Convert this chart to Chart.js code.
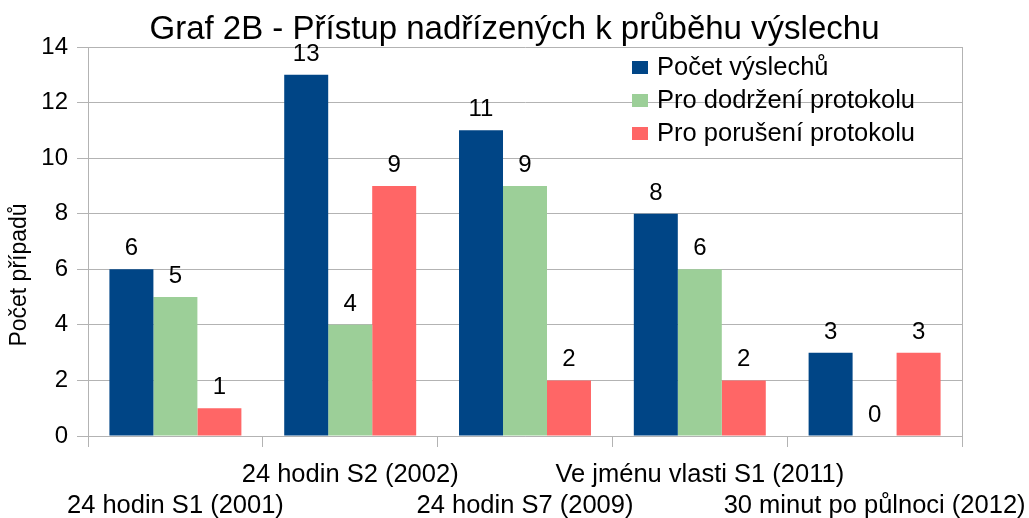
<!DOCTYPE html>
<html>
<head>
<meta charset="utf-8">
<script src="https://cdn.jsdelivr.net/npm/chart.js@4/dist/chart.umd.min.js"></script>
<style>
   html, body { margin: 0; padding: 0; background: #fff; }
   #wrap { width: 1029px; height: 518px; }
</style>
</head>
<body>
<div id="wrap"><canvas id="chart"></canvas></div>
<script>
// chart data
const categories = [
   "24 hodin S1 (2001)",
   "24 hodin S2 (2002)",
   "24 hodin S7 (2009)",
   "Ve jménu vlasti S1 (2011)",
   "30 minut po půlnoci (2012)",
];
const seriesNames = ["Počet výslechů", "Pro dodržení protokolu", "Pro porušení protokolu"];
const pocetVyslechu = [6, 13, 11, 8, 3];
const proDodrzeni = [5, 4, 9, 6, 0];
const proPoruseni = [1, 9, 2, 2, 3];
const yMin = 0;
const yMax = 14;
const yStep = 2;

const titleText = "Graf 2B - Přístup nadřízených k průběhu výslechu";
const yTitleText = "Počet případů";
const colors = ["#004586", "#9ccf98", "#ff6666"];
const gridColor = "#b3b3b3";
const fontFamily = "'Liberation Sans', Arial, sans-serif";

// title, value labels above the bars, legend, y title and right border
const extras = {
   id: "extras",
   afterDatasetsDraw(chart) {
      const ctx = chart.ctx;
      const area = chart.chartArea;
      ctx.save();

      // right border of the plot
      ctx.strokeStyle = gridColor;
      ctx.lineWidth = 1;
      ctx.beginPath();
      ctx.moveTo(Math.round(area.right) + 0.5, area.top);
      ctx.lineTo(Math.round(area.right) + 0.5, area.bottom);
      ctx.stroke();

      // title (centered on the whole picture)
      ctx.fillStyle = "#000";
      ctx.font = "33px " + fontFamily;
      ctx.textAlign = "center";
      ctx.textBaseline = "middle";
      ctx.fillText(titleText, chart.width / 2, 30);

      // value labels
      ctx.font = "24px " + fontFamily;
      ctx.textBaseline = "alphabetic";
      chart.data.datasets.forEach((ds, i) => {
         const meta = chart.getDatasetMeta(i);
         meta.data.forEach((bar, j) => {
            ctx.fillText(String(ds.data[j]), bar.x, bar.y - 14);
         });
      });

      // legend
      ctx.font = "25.5px " + fontFamily;
      ctx.textAlign = "left";
      ctx.textBaseline = "middle";
      chart.data.datasets.forEach((ds, i) => {
         const y = 67 + i * 33;
         ctx.fillStyle = ds.backgroundColor;
         ctx.fillRect(632, y - 6, 16, 13);
         ctx.fillStyle = "#000";
         ctx.fillText(ds.label, 657, y + 1);
      });

      // y axis title
      ctx.translate(20, 275);
      ctx.rotate(-Math.PI / 2);
      ctx.textAlign = "center";
      ctx.font = "23px " + fontFamily;
      ctx.fillText(yTitleText, 0, 0);

      ctx.restore();
   },
};

const ctx = document.getElementById("chart").getContext("2d");
new Chart(ctx, {
   type: "bar",
   data: {
      labels: categories,
      datasets: [
         { label: seriesNames[0], data: pocetVyslechu, backgroundColor: colors[0] },
         { label: seriesNames[1], data: proDodrzeni, backgroundColor: colors[1] },
         { label: seriesNames[2], data: proPoruseni, backgroundColor: colors[2] },
      ],
   },
   options: {
      responsive: true,
      maintainAspectRatio: false,
      animation: false,
      devicePixelRatio: 1,
      layout: { padding: { left: 0, right: 67, top: 47, bottom: 0 } },
      datasets: {
         bar: { categoryPercentage: 0.755, barPercentage: 1.0, borderWidth: 0 },
      },
      plugins: {
         legend: { display: false },
         tooltip: { enabled: false },
         title: { display: false },
      },
      scales: {
         x: {
            grid: {
               offset: true,
               drawOnChartArea: false,
               drawTicks: true,
               tickLength: 11,
               color: gridColor,
            },
            border: { display: true, color: gridColor },
            ticks: {
               color: "#000",
               autoSkip: false,
               maxRotation: 0,
               minRotation: 0,
               padding: 12,
               font: { family: fontFamily, size: 25.5, lineHeight: 1.22 },
               callback: function (value, index) {
                  const label = this.getLabelForValue(value);
                  return index % 2 === 1 ? [label] : ["", label];
               },
            },
            afterFit: (scale) => {
               scale.height = 82;
               // labels may run past the plot edges, like in the original
               scale.paddingLeft = 0;
               scale.paddingRight = 0;
            },
         },
         y: {
            min: yMin,
            max: yMax,
            grid: { color: gridColor, tickLength: 11 },
            border: { display: true, color: gridColor },
            ticks: {
               stepSize: yStep,
               color: "#000",
               padding: 9,
               font: { family: fontFamily, size: 24 },
            },
            afterFit: (scale) => {
               scale.width = 88;
               scale.paddingTop = 0;
               scale.paddingBottom = 0;
            },
         },
      },
   },
   plugins: [extras],
});
</script>
</body>
</html>
